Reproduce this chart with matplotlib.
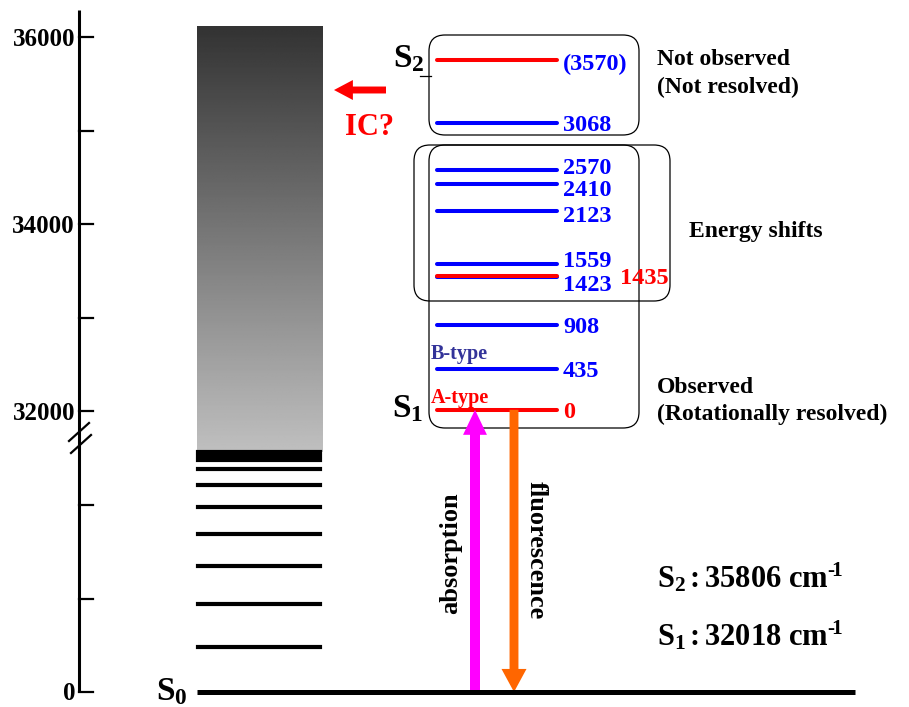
"""
plot.py -- energy level diagram: S0 ladder, S1 vibronic bands, S2 origin,
absorption / fluorescence arrows. Saves out.png (909x707).
"""
import numpy as np
import matplotlib
matplotlib.use("Agg")
import matplotlib.pyplot as plt
from matplotlib.patches import FancyBboxPatch, FancyArrowPatch

plt.rcParams["font.family"] = ["Liberation Serif", "DejaVu Serif"]
plt.rcParams["font.weight"] = "bold"
plt.rcParams["mathtext.fontset"] = "custom"
for k in ("rm", "it", "bf"):
    plt.rcParams["mathtext." + k] = "Liberation Serif:bold"

# --- data (cm-1) ---
S1_ORIGIN = 32018
S2_ORIGIN = 35806
AXIS_TICKS = [0, 1000, 2000, 32000, 33000, 34000, 35000, 36000]
AXIS_LABELS = ["0", "", "", "32000", "", "34000", "", "36000"]
S0_LEVELS = [481, 941, 1348, 1690, 1979, 2214, 2385, 2481, 2524, 2567]
S1_BANDS = [0, 435, 908, 1423, 1559, 2123, 2410, 2570, 3068, 1435]
S1_LABELS = ["0", "435", "908", "1423", "1559", "2123", "2410", "2570", "3068", "1435"]
S1_COLORS = ["red", "blue", "blue", "blue", "blue", "blue", "blue", "blue", "blue", "red"]
S2_BAND = 3740          # where the S2 band is drawn, relative to S1 origin
S2_LABEL = "(3570)"
S2_TICK = 3570
CONTINUUM = (2567, 36123)   # grey band, bottom (lower scale) / top (upper scale)

BREAK = 29000   # upper part of the axis is shifted down by this much
PX = 0.0935     # pixels per axis unit
Y0 = 692        # pixel row of zero


def ymap(e):
    return e - BREAK if e >= 30000 else e


def py(ypix):
    # pixel row -> axis units (for layout only)
    return (Y0 - ypix) / PX


fig = plt.figure(figsize=(9.09, 7.07), dpi=100, facecolor="white")
ax = fig.add_axes([0, 0, 1, 1])
ax.set_xlim(0, 909)
ax.set_ylim(py(707), py(0))
ax.set_axis_off()

# vertical axis with break
ax.plot([79, 79], [0, py(10)], color="black", lw=2.2, solid_capstyle="butt")
for t, lab in zip(AXIS_TICKS, AXIS_LABELS):
    y = ymap(t)
    ax.plot([79, 93], [y, y], color="black", lw=1.6)
    if lab:
        ax.text(75, y - 8.5 / PX, lab, ha="right", va="baseline", fontsize=18)
for (x1, y1, x2, y2) in [(69, 441, 89, 423), (71, 453, 91, 435)]:
    ax.plot([x1, x2], [py(y1), py(y2)], color="black", lw=1.6)

# continuum (grey gradient)
grad = np.linspace(0.75, 0.2, 256).reshape(-1, 1)
ax.imshow(grad, cmap="gray", vmin=0, vmax=1, aspect="auto", origin="lower",
          extent=[197, 323, CONTINUUM[0], ymap(CONTINUUM[1])], zorder=1)

# S0 ladder
for e in S0_LEVELS:
    ax.plot([198, 320], [e, e], color="black", lw=3.0, zorder=2)
ax.plot([197, 855], [0, 0], color="black", lw=3.6, zorder=5, solid_capstyle="butt")
ax.text(156, py(700), "S$_0$", fontsize=24, va="baseline")

# S1 / S2 bands
label_dy = {"2570": -4, "2410": 3, "2123": 2, "1559": -5, "1423": 6}
for e, lab, c in zip(S1_BANDS, S1_LABELS, S1_COLORS):
    y = ymap(S1_ORIGIN + e)
    ax.plot([437, 557], [y, y], color=c, lw=2.9, zorder=4 if c == "red" else 3,
            solid_capstyle="round")
    x = 620 if lab == "1435" else 563
    ty = y - (label_dy.get(lab, 0) + 8.3) / PX
    ax.text(x, ty, lab, color=c, fontsize=17.5, va="baseline")
y = ymap(S1_ORIGIN + S2_BAND)
ax.plot([437, 557], [y, y], color="red", lw=2.9, zorder=4, solid_capstyle="round")
ax.text(563, y - (2 + 8.3) / PX, S2_LABEL, color="blue", fontsize=17.5, va="baseline")
ys = ymap(S1_ORIGIN + S2_TICK)
ax.plot([420, 431], [ys, ys], color="black", lw=0.9)

ax.text(393, py(67), "S$_2$", fontsize=24, va="baseline")
ax.text(392, py(417), "S$_1$", fontsize=24, va="baseline")
ax.text(431, py(359), "B-type", color="#333399", fontsize=14.5, va="baseline")
ax.text(431, py(403), "A-type", color="red", fontsize=14.5, va="baseline")

# rounded boxes (pixel boxes)
asp = 1 / PX
for (x1, y1, x2, y2) in [(429, 35, 639, 135), (414, 145, 670, 301), (429, 145, 639, 428)]:
    ax.add_patch(FancyBboxPatch((x1, py(y2)), x2 - x1, py(y1) - py(y2),
                                boxstyle="round,pad=0,rounding_size=16",
                                mutation_aspect=asp, fc="none", ec="black", lw=0.9, zorder=2))

# side notes
ax.text(657, py(65), "Not observed", fontsize=17, va="baseline")
ax.text(657, py(93), "(Not resolved)", fontsize=17, va="baseline")
ax.text(689, py(237), "Energy shifts", fontsize=17, va="baseline")
ax.text(657, py(393), "Observed", fontsize=17, va="baseline")
ax.text(657, py(420), "(Rotationally resolved)", fontsize=17, va="baseline")
ax.text(657, py(588), "S$_2\\,$:$\\,$%d cm$^{\u2010\\!1}$" % S2_ORIGIN, fontsize=22, va="baseline")
ax.text(657, py(645), "S$_1\\,$:$\\,$%d cm$^{\u2010\\!1}$" % S1_ORIGIN, fontsize=22, va="baseline")

# IC? arrow
ax.add_patch(FancyArrowPatch((386, py(90)), (334, py(90)),
                             arrowstyle="simple,head_length=0.68,head_width=0.72,tail_width=0.25",
                             mutation_scale=20, color="red", lw=0, shrinkA=0, shrinkB=0))
ax.text(345, py(135), "IC?", color="red", fontsize=22, va="baseline")

# absorption / fluorescence
y1 = ymap(S1_ORIGIN)
ax.add_patch(FancyArrowPatch((475, 0), (475, y1),
                             arrowstyle="simple,head_length=0.9,head_width=0.86,tail_width=0.36",
                             mutation_scale=20, color="#FF00FF", lw=0, shrinkA=0, shrinkB=0, zorder=4))
ax.add_patch(FancyArrowPatch((514, y1), (514, 0),
                             arrowstyle="simple,head_length=0.83,head_width=0.9,tail_width=0.32",
                             mutation_scale=20, color="#FF6600", lw=0, shrinkA=0, shrinkB=0, zorder=4))
ax.text(451, py(553), "absorption", rotation=90, ha="center", va="center", fontsize=19)
ax.text(536, py(550), "fluorescence", rotation=270, ha="center", va="center", fontsize=19)

fig.savefig("out.png", dpi=100, facecolor="white")
